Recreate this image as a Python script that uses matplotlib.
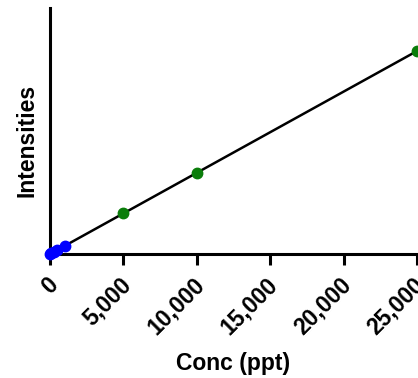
import numpy as np
import matplotlib.pyplot as plt
import matplotlib.transforms as mtransforms

plt.rcParams['font.family'] = ['Liberation Sans', 'DejaVu Sans']
plt.rcParams['font.weight'] = 'bold'

# standards (low range, blue) and high range (green)
conc_low = [0, 100, 250, 500, 1000]
int_low = [0, 100, 250, 500, 1000]
conc_high = [5000, 10000, 25000]
int_high = [5000, 10000, 25000]

xticks = [0, 5000, 10000, 15000, 20000, 25000]
xticklabels = ['0', '5,000', '10,000', '15,000', '20,000', '25,000']

fig = plt.figure(figsize=(4.18, 3.78), dpi=100)
ax = fig.add_axes([50 / 418, 124 / 378, 367 / 418, 246 / 378])

# fit line
allx = np.array(conc_low + conc_high)
ally = np.array(int_low + int_high)
slope, icpt = np.polyfit(allx, ally, 1)
xl = np.array([0, 25000])
ax.plot(xl, slope * xl + icpt, color='black', lw=1.8, zorder=2, clip_on=False)

ax.plot(conc_high, int_high, 'o', color='#0a7d0a', ms=7.5, zorder=3, clip_on=False)
ax.plot(conc_low, int_low, 'o', color='#0000ff', ms=7.5, zorder=3, clip_on=False)

ax.set_xlim(0, 25000)
ax.set_ylim(0, 30300)
ax.set_xticks(xticks)
ax.set_xticklabels(xticklabels, rotation=45, ha='right', rotation_mode='anchor',
                   fontsize=16.5, fontweight='bold')
ax.set_yticks([])
ax.tick_params(axis='x', length=8, width=2.2, pad=6)

# nudge rotated labels a bit left
off = mtransforms.ScaledTranslation(-4 / 100, 0, fig.dpi_scale_trans)
for lab in ax.get_xticklabels():
    lab.set_transform(lab.get_transform() + off)

for s in ['top', 'right']:
    ax.spines[s].set_visible(False)
for s in ['left', 'bottom']:
    ax.spines[s].set_linewidth(2.2)

ax.set_xlabel('Conc (ppt)', fontsize=16.5, fontweight='bold', labelpad=9)
ax.set_ylabel('Intensities', fontsize=16.5, fontweight='bold')
ax.yaxis.set_label_coords(-0.03, 0.46)

fig.savefig('out.png', dpi=100)
